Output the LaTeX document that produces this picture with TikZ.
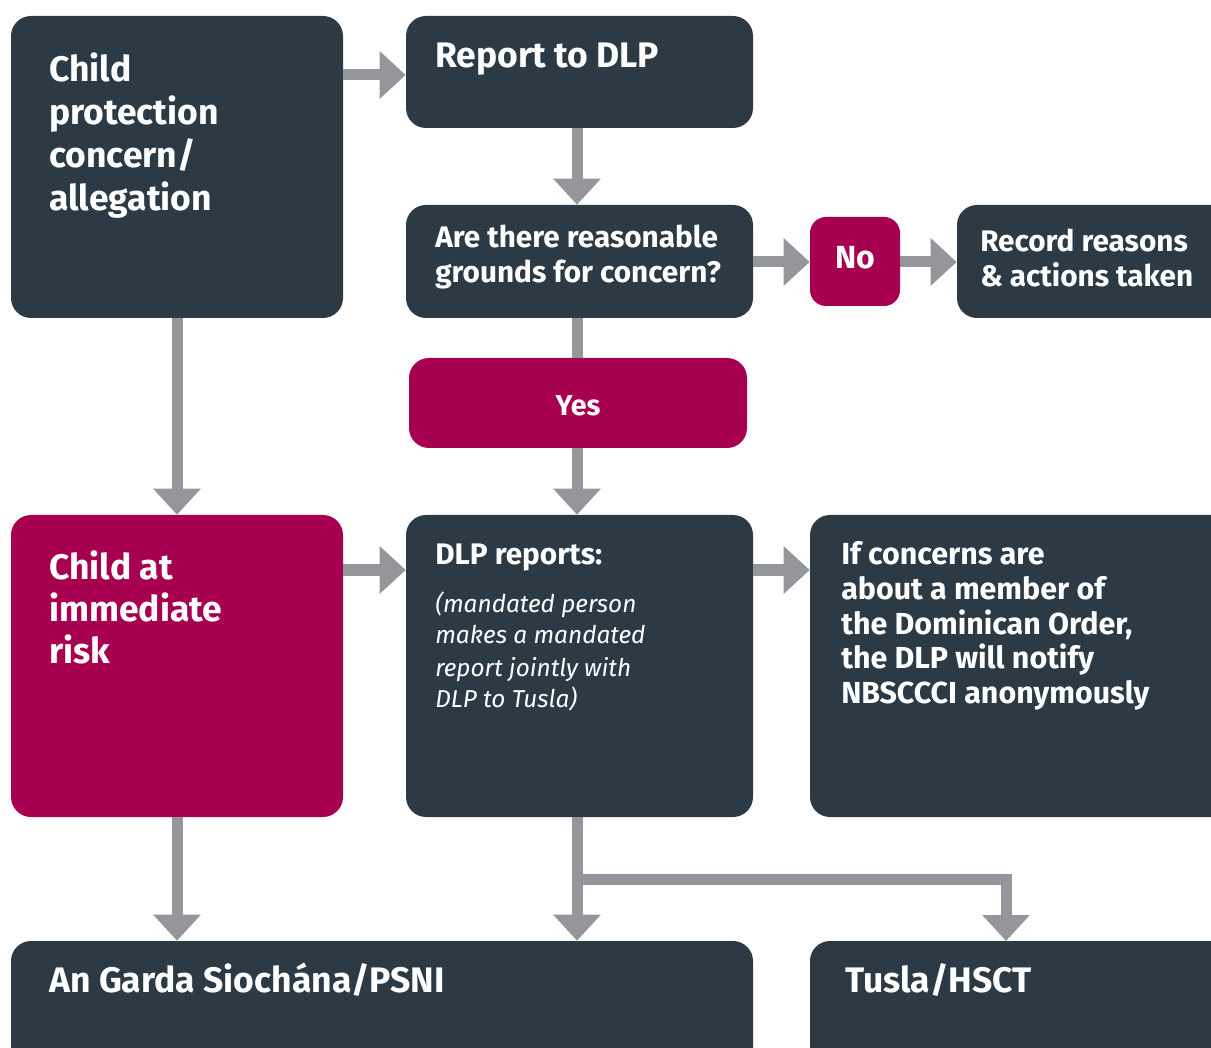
\documentclass[tikz,border=0pt]{standalone}
\usepackage{fontspec}
\setmainfont{Fira Sans}
\usetikzlibrary{fit,arrows.meta}
\definecolor{dark}{RGB}{44,58,70}
\definecolor{mag}{RGB}{168,0,80}
\definecolor{arr}{RGB}{148,150,156}
\newcommand\rowtext[1]{\hbox{#1}}
\newcommand\txtlines[2]{\vtop{\baselineskip=#1\lineskiplimit=-\maxdimen\relax #2}}
\tikzset{
  box/.style={draw=none, fill=dark, rounded corners=15pt, inner sep=0pt},
  mbox/.style={box, fill=mag},
  big/.style={text=white, inner sep=0pt, anchor=base west, font=\bfseries\fontsize{26.6}{32}\selectfont},
  mid/.style={text=white, inner sep=0pt, anchor=base west, font=\bfseries\fontsize{22.3}{26}\selectfont},
  ital/.style={text=white, inner sep=0pt, anchor=base west, font=\itshape\fontsize{18.3}{24}\selectfont},
  conn/.style={draw=arr, line width=8.25pt},
  arrow/.style={conn, -{Triangle[length=19.5pt 0 0, width=34.5pt 0 0]}},
}
\begin{document}
\begin{tikzpicture}[x=0.75pt, y=-0.75pt]
\useasboundingbox (0,0) rectangle (1211,1048);
\clip (0,0) rectangle (1211,1048);
% boxes
\node[box, fit={(11,16) (343,318)}] (cp) {};
\node[box, fit={(406,16) (753,128)}] (rep) {};
\node[box, fit={(406,205) (753,318)}] (grounds) {};
\node[mbox, rounded corners=12pt, fit={(810,217) (900,306)}] (no) {};
\node[box, fit={(957,205) (1240,318)}] (rec) {};
\node[mbox, fit={(409,358) (747,448)}] (yes) {};
\node[mbox, fit={(11,515) (343,817)}] (risk) {};
\node[box, fit={(406,515) (753,817)}] (dlp) {};
\node[box, fit={(810,515) (1240,817)}] (conc) {};
\node[box, fit={(11,941) (753,1080)}] (garda) {};
\node[box, fit={(810,941) (1240,1080)}] (tusla) {};
% texts
\node[big] (tcp) at (49,82) {\txtlines{32.25pt}{\rowtext{Child}\rowtext{protection}\rowtext{concern/}\rowtext{allegation}}};
\node[big] (trep) at (435,68) {Report to DLP};
\node[mid] (tgr) at (435,248) {\txtlines{26.25pt}{\rowtext{Are there reasonable}\rowtext{grounds for concern?}}};
\node[mid, anchor=center, font=\bfseries\fontsize{24}{26}\selectfont] (tno) at ([yshift=3pt]no.center) {No};
\node[mid] (trec) at (980,252) {\txtlines{26.25pt}{\rowtext{Record reasons}\rowtext{\& actions taken}}};
\node[mid, anchor=center, font=\bfseries\fontsize{21.5}{24}\selectfont] (tyes) at ([yshift=-2pt]yes.center) {Yes};
\node[big] (trisk) at (49,580) {\txtlines{31.5pt}{\rowtext{Child at}\rowtext{immediate}\rowtext{risk}}};
\node[mid] (tdlp) at (435,565) {DLP reports:};
\node[ital] (tdlpi) at (435,612) {\txtlines{24pt}{\rowtext{(mandated person}\rowtext{makes a mandated}\rowtext{report jointly with}\rowtext{DLP to Tusla)}}};
\node[mid, font=\bfseries\fontsize{22.8}{26}\selectfont] (tconc) at (841,565) {\txtlines{26pt}{\rowtext{If concerns are}\rowtext{about a member of}\rowtext{the Dominican Order,}\rowtext{the DLP will notify}\rowtext{NBSCCCI anonymously}}};
\node[big] (tgarda) at (49,992) {An Garda Siochána/PSNI};
\node[big] (ttusla) at (845,992) {Tusla/HSCT};
% connectors
\coordinate (cpR) at (343,75);
\draw[arrow] (cpR) -- (cpR -| rep.west);
\coordinate (repS) at (577,128);
\draw[arrow] (repS) -- (repS |- grounds.north);
\coordinate (grR) at (753,262);
\draw[arrow] (grR) -- (grR -| no.west);
\draw[arrow] (no.east |- grR) -- (grR -| rec.west);
\coordinate (grS) at (577,318);
\draw[conn] (grS) -- (grS |- yes.north);
\coordinate (yesS) at (577,448);
\draw[arrow] (yesS) -- (yesS |- dlp.north);
\coordinate (cpS) at (177,318);
\draw[arrow] (cpS) -- (cpS |- risk.north);
\coordinate (riskR) at (343,570);
\draw[arrow] (riskR) -- (riskR -| dlp.west);
\draw[arrow] (dlp.east |- riskR) -- (riskR -| conc.west);
\coordinate (riskS) at (177,817);
\draw[arrow] (riskS) -- (riskS |- garda.north);
\coordinate (dlpS) at (577,817);
\draw[arrow] (dlpS) -- (dlpS |- garda.north);
\coordinate (br) at (577,879);
\coordinate (tusN) at (1006,941);
\draw[arrow, line join=miter] (br) -| (tusN);
\end{tikzpicture}
\end{document}
